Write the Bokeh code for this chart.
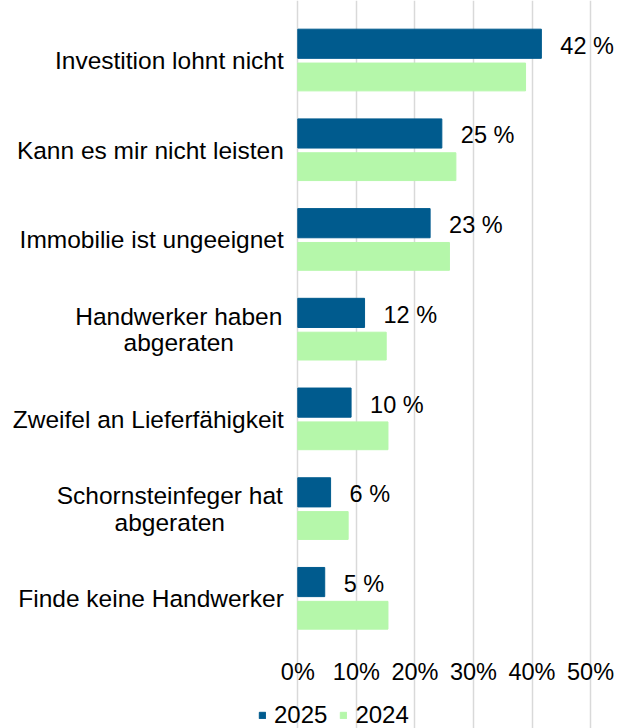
from bokeh.plotting import figure
from bokeh.models import (ColumnDataSource, Range1d, Legend, LegendItem, FixedTicker, Grid)
from bokeh.core.properties import value
from bokeh.transform import dodge
from bokeh.embed import file_html
from bokeh.resources import INLINE

# ---- data ----
categories = [
    "Investition lohnt nicht",
    "Kann es mir nicht leisten",
    "Immobilie ist ungeeignet",
    "Handwerker haben\nabgeraten",
    "Zweifel an Lieferfähigkeit",
    "Schornsteinfeger hat\nabgeraten",
    "Finde keine Handwerker",
]
values_2025 = [41.6, 24.6, 22.6, 11.4, 9.1, 5.6, 4.6]
values_2024 = [38.9, 27.0, 25.9, 15.1, 15.4, 8.6, 15.4]
labels_2025 = ["42 %", "25 %", "23 %", "12 %", "10 %", "6 %", "5 %"]
series_names = ["2025", "2024"]
x_ticks = [0, 10, 20, 30, 40, 50]
x_tick_labels = ["0%", "10%", "20%", "30%", "40%", "50%"]

# ---- styles / layout ----
W, H = 618, 728
ZERO_PX = 297.3          # pixel position of 0 %
PX_PER_UNIT = 5.855      # pixels per percentage point
TOP_PX, BOTTOM_PX = 15, 643   # vertical extent of the category area
COL_2025 = "#005B8E"
COL_2024 = "#B5F7AA"
GRID_COL = "#D9D9D9"
FONT = value("Liberation Sans")
DODGE = 0.185

n = len(categories)
idx = list(range(n))
band = (BOTTOM_PX - TOP_PX) / n

source = ColumnDataSource(dict(
    idx=idx, cat=categories, v2025=values_2025, v2024=values_2024, lab=labels_2025,
    zero=[0] * n,
))
single = [(i, c) for i, c in zip(idx, categories) if "\n" not in c]
multi = [(i, c) for i, c in zip(idx, categories) if "\n" in c]
single_src = ColumnDataSource(dict(idx=[i for i, _ in single], cat=[c for _, c in single],
                                   zero=[0] * len(single)))
multi_src = ColumnDataSource(dict(
    idx=[i for i, _ in multi], cat=[c for _, c in multi], zero=[0] * len(multi),
    xoff=[-119 if c.startswith("Handwerker") else -128 for _, c in multi],
))
tick_src = ColumnDataSource(dict(x=x_ticks, text=x_tick_labels, y=[n - 0.5] * len(x_ticks)))

p = figure(
    width=W, height=H,
    x_range=Range1d(-ZERO_PX / PX_PER_UNIT, (W - ZERO_PX) / PX_PER_UNIT),
    y_range=Range1d(start=(n - 0.5) + (H - BOTTOM_PX) / band, end=-0.5 - TOP_PX / band),
    output_backend="svg", toolbar_location=None,
    x_axis_location=None, y_axis_location=None,
    min_border_left=0, min_border_right=0, min_border_top=0, min_border_bottom=0,
)
p.outline_line_color = None
p.background_fill_color = "white"
p.border_fill_color = "white"
for g in list(p.grid):
    g.visible = False

grid = Grid(dimension=0, ticker=FixedTicker(ticks=x_ticks), bounds=(-0.5, n - 0.5),
            grid_line_color=GRID_COL, grid_line_width=1.5)
p.add_layout(grid)

r25 = p.hbar(y=dodge("idx", -DODGE), left=0, right="v2025", height=0.325,
             source=source, fill_color=COL_2025, line_color=COL_2025)
r24 = p.hbar(y=dodge("idx", DODGE), left=0, right="v2024", height=0.31,
             source=source, fill_color=COL_2024, line_color=COL_2024)

# x tick labels
p.text(x="x", y="y", text="text", source=tick_src, y_offset=28, text_align="center",
       text_baseline="middle", text_font=FONT, text_font_size="23.5px", text_color="#000000")

# category labels
p.text(x="zero", y="idx", text="cat", source=single_src, x_offset=-14,
       text_align="right", text_baseline="middle", text_font=FONT,
       text_font_size="24.5px", text_color="#000000")
p.text(x="zero", y="idx", text="cat", source=multi_src, x_offset="xoff",
       text_align="center", text_baseline="middle", text_font=FONT,
       text_font_size="24.5px", text_color="#000000", text_line_height=0.98)

# data labels
p.text(x="v2025", y=dodge("idx", -DODGE), text="lab", source=source,
       x_offset=19, y_offset=2, text_align="left", text_baseline="middle",
       text_font=FONT, text_font_size="23.5px", text_color="#000000")

legend = Legend(items=[LegendItem(label=series_names[0], renderers=[r25]),
                       LegendItem(label=series_names[1], renderers=[r24])],
                location=(258, -1), orientation="horizontal",
                glyph_width=8, glyph_height=8, label_standoff=8, spacing=12,
                padding=0, margin=0, border_line_color=None,
                background_fill_alpha=0, label_text_font="Liberation Sans",
                label_text_font_size="24px", label_text_color="#000000")
p.add_layout(legend)

open("out.html", "w").write(file_html(p, INLINE))
